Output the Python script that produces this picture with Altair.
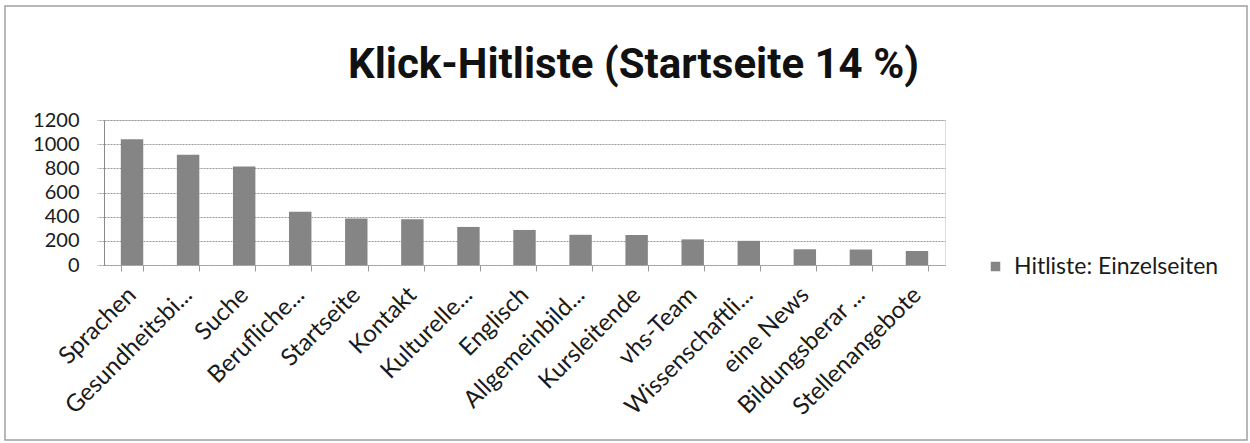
import altair as alt
import pandas as pd

categories = ["Sprachen", "Gesundheitsbi...", "Suche", "Berufliche...", "Startseite",
              "Kontakt", "Kulturelle...", "Englisch", "Allgemeinbild...", "Kursleitende",
              "vhs-Team", "Wissenschaftli...", "eine News", "Bildungsberar ...", "Stellenangebote"]
values = [1040, 912, 815, 440, 385, 378, 315, 290, 250, 248, 212, 200, 130, 128, 115]
series_name = "Hitliste: Einzelseiten"
y_ticks = [0, 200, 400, 600, 800, 1000, 1200]
title_text = "Klick-Hitliste (Startseite 14 %)"

df = pd.DataFrame({"Seite": categories, "Klicks": values, "Serie": [series_name] * len(categories)})

W, H = 841, 145
BAR = "#858585"
FONT = "Lato"

bars = alt.Chart(df).mark_bar(color=BAR).encode(
    x=alt.X("Seite:N", sort=None, title=None,
            scale=alt.Scale(paddingInner=0.6, paddingOuter=0.3),
            axis=alt.Axis(labelAngle=-45, labelAlign="right", labelBaseline="middle",
                          labelFont=FONT, labelFontSize=24, labelColor="#1a1a1a",
                          labelPadding=20, tickBand="extent", tickSize=6, tickColor="#9a9a9a",
                          domainColor="#9a9a9a", domainDash=[2, 1], grid=False,
                          labelOverlap=False, labelLimit=0)),
    y=alt.Y("Klicks:Q", title=None,
            scale=alt.Scale(domain=[0, 1200], nice=False),
            axis=alt.Axis(values=y_ticks, format="d", labelFont=FONT, labelFontSize=20,
                          labelColor="#1a1a1a", labelPadding=18, tickSize=7,
                          tickColor="#9a9a9a", tickDash=[2, 1], domainColor="#8a8a8a",
                          grid=True, gridColor="#9a9a9a", gridDash=[2, 1])),
    color=alt.Color("Serie:N", scale=alt.Scale(range=[BAR]),
                    legend=alt.Legend(title=None, orient="none", legendX=880, legendY=135,
                                      symbolType="square", symbolSize=90, symbolStrokeWidth=0,
                                      labelFont=FONT, labelFontSize=23, labelColor="#1a1a1a",
                                      padding=0, labelOffset=7, labelLimit=0)),
)

frame = alt.Chart(pd.DataFrame({"f": [0]})).mark_rect(
    fill=None, fillOpacity=0, stroke="#a0a0a0", strokeWidth=1.5
).encode(x=alt.value(-99), x2=alt.value(1143), y=alt.value(-114), y2=alt.value(320))

chart = alt.layer(frame, bars).properties(
    width=W, height=H,
    title=alt.TitleParams(title_text, font="Roboto", fontSize=42,
                          fontWeight="bold", color="#111111", anchor="middle",
                          baseline="alphabetic", dx=109, dy=115, offset=0),
    autosize=alt.AutoSizeParams(type="none"),
    padding={"left": 104, "top": 120, "right": 305, "bottom": 178},
).configure_view(stroke=None).configure(background="white")

chart.save("out.html", embed_options={"renderer": "svg", "actions": False})
